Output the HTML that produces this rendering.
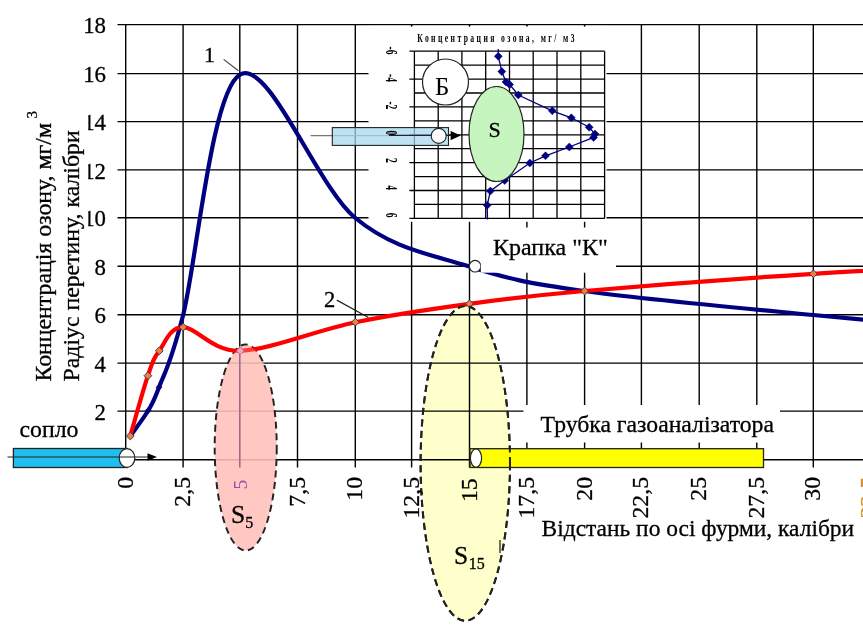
<!DOCTYPE html><html><head><meta charset="utf-8"><title>chart</title><style>html,body{margin:0;padding:0;background:#fff}svg{display:block}text{font-family:"Liberation Serif",serif;fill:#000;stroke:#000;stroke-width:0.3px}text.n{stroke:none}</style></head><body>
<svg width="863" height="632" viewBox="0 0 863 632">
<rect width="863" height="632" fill="#fff"/>
<ellipse cx="465.3" cy="463.4" rx="44.7" ry="157.4" fill="#ffffcb"/>
<g stroke="#000" stroke-width="1.4" fill="none">
<line x1="117.5" y1="459.7" x2="863" y2="459.7"/>
<line x1="117.5" y1="411.1" x2="863" y2="411.1"/>
<line x1="117.5" y1="363.1" x2="863" y2="363.1"/>
<line x1="117.5" y1="314.7" x2="863" y2="314.7"/>
<line x1="117.5" y1="266.2" x2="863" y2="266.2"/>
<line x1="117.5" y1="217.8" x2="863" y2="217.8"/>
<line x1="117.5" y1="169.9" x2="863" y2="169.9"/>
<line x1="117.5" y1="121.6" x2="863" y2="121.6"/>
<line x1="117.5" y1="73.6" x2="863" y2="73.6"/>
<line x1="117.5" y1="24.6" x2="863" y2="24.6"/>
<line x1="125.7" y1="24.6" x2="125.7" y2="467.5"/>
<line x1="183.1" y1="24.6" x2="183.1" y2="467.5"/>
<line x1="239.8" y1="24.6" x2="239.8" y2="467.5"/>
<line x1="297.5" y1="24.6" x2="297.5" y2="467.5"/>
<line x1="355.3" y1="24.6" x2="355.3" y2="467.5"/>
<line x1="411.6" y1="24.6" x2="411.6" y2="467.5"/>
<line x1="469.5" y1="24.6" x2="469.5" y2="467.5"/>
<line x1="526.9" y1="24.6" x2="526.9" y2="467.5"/>
<line x1="584.6" y1="24.6" x2="584.6" y2="467.5"/>
<line x1="641.4" y1="24.6" x2="641.4" y2="467.5"/>
<line x1="699.2" y1="24.6" x2="699.2" y2="467.5"/>
<line x1="756.8" y1="24.6" x2="756.8" y2="467.5"/>
<line x1="813.3" y1="24.6" x2="813.3" y2="467.5"/>
</g>
<rect x="368.5" y="25.8" width="238" height="196" fill="#fff"/>
<rect x="523.5" y="405" width="256.5" height="37.5" fill="#fff"/>
<g stroke="#000" stroke-width="1.4">
<line x1="411.6" y1="24.6" x2="411.6" y2="26.6"/>
<line x1="469.5" y1="24.6" x2="469.5" y2="26.6"/>
<line x1="526.9" y1="24.6" x2="526.9" y2="26.6"/>
<line x1="584.6" y1="24.6" x2="584.6" y2="26.6"/>
</g>
<g stroke="#000" stroke-width="1.3" fill="none">
<line x1="414.4" y1="51.2" x2="414.4" y2="218.4"/>
<line x1="438.2" y1="51.2" x2="438.2" y2="218.4"/>
<line x1="461.9" y1="51.2" x2="461.9" y2="218.4"/>
<line x1="485.7" y1="51.2" x2="485.7" y2="218.4"/>
<line x1="509.5" y1="51.2" x2="509.5" y2="218.4"/>
<line x1="533.2" y1="51.2" x2="533.2" y2="218.4"/>
<line x1="557.0" y1="51.2" x2="557.0" y2="218.4"/>
<line x1="580.8" y1="51.2" x2="580.8" y2="218.4"/>
<line x1="604.6" y1="51.2" x2="604.6" y2="218.4"/>
<line x1="409.4" y1="51.2" x2="604.6" y2="51.2"/>
<line x1="414.4" y1="65.1" x2="604.6" y2="65.1"/>
<line x1="409.4" y1="79.1" x2="604.6" y2="79.1"/>
<line x1="414.4" y1="93.0" x2="604.6" y2="93.0"/>
<line x1="409.4" y1="106.9" x2="604.6" y2="106.9"/>
<line x1="414.4" y1="120.9" x2="604.6" y2="120.9"/>
<line x1="409.4" y1="134.8" x2="604.6" y2="134.8"/>
<line x1="414.4" y1="148.7" x2="604.6" y2="148.7"/>
<line x1="409.4" y1="162.6" x2="604.6" y2="162.6"/>
<line x1="414.4" y1="176.6" x2="604.6" y2="176.6"/>
<line x1="409.4" y1="190.5" x2="604.6" y2="190.5"/>
<line x1="414.4" y1="204.4" x2="604.6" y2="204.4"/>
<line x1="409.4" y1="218.4" x2="604.6" y2="218.4"/>
</g>
<text id="ititle" class="n" x="0" y="0" font-size="12.8" font-weight="bold" letter-spacing="4.0" fill="#222" transform="translate(417.3,41.5) scale(0.6,1)">Концентрация озона, мг/ м3</text>
<polyline points="498.3,49.0 498.3,56.3 501.8,71.6 506.0,82.0 509.6,84.6 518.3,95.0 552.3,110.8 571.3,117.8 589.2,127.3 595.0,134.0 593.6,137.4 569.3,147.0 545.5,155.8 529.8,163.0 504.7,180.5 490.4,191.0 487.2,205.2 487.5,219.5" fill="none" stroke="#000080" stroke-width="1.3"/>
<path d="M494.3,56.3 L498.3,52.3 L502.3,56.3 L498.3,60.3 Z" fill="#000080" stroke="#000080" stroke-width="0.5"/>
<path d="M497.8,71.6 L501.8,67.6 L505.8,71.6 L501.8,75.6 Z" fill="#000080" stroke="#000080" stroke-width="0.5"/>
<path d="M502.0,82.0 L506.0,78.0 L510.0,82.0 L506.0,86.0 Z" fill="#000080" stroke="#000080" stroke-width="0.5"/>
<path d="M505.6,84.6 L509.6,80.6 L513.6,84.6 L509.6,88.6 Z" fill="#000080" stroke="#000080" stroke-width="0.5"/>
<path d="M514.3,95.0 L518.3,91.0 L522.3,95.0 L518.3,99.0 Z" fill="#000080" stroke="#000080" stroke-width="0.5"/>
<path d="M548.3,110.8 L552.3,106.8 L556.3,110.8 L552.3,114.8 Z" fill="#000080" stroke="#000080" stroke-width="0.5"/>
<path d="M567.3,117.8 L571.3,113.8 L575.3,117.8 L571.3,121.8 Z" fill="#000080" stroke="#000080" stroke-width="0.5"/>
<path d="M585.2,127.3 L589.2,123.3 L593.2,127.3 L589.2,131.3 Z" fill="#000080" stroke="#000080" stroke-width="0.5"/>
<path d="M591.0,134.0 L595.0,130.0 L599.0,134.0 L595.0,138.0 Z" fill="#000080" stroke="#000080" stroke-width="0.5"/>
<path d="M589.6,137.4 L593.6,133.4 L597.6,137.4 L593.6,141.4 Z" fill="#000080" stroke="#000080" stroke-width="0.5"/>
<path d="M565.3,147.0 L569.3,143.0 L573.3,147.0 L569.3,151.0 Z" fill="#000080" stroke="#000080" stroke-width="0.5"/>
<path d="M541.5,155.8 L545.5,151.8 L549.5,155.8 L545.5,159.8 Z" fill="#000080" stroke="#000080" stroke-width="0.5"/>
<path d="M525.8,163.0 L529.8,159.0 L533.8,163.0 L529.8,167.0 Z" fill="#000080" stroke="#000080" stroke-width="0.5"/>
<path d="M500.7,180.5 L504.7,176.5 L508.7,180.5 L504.7,184.5 Z" fill="#000080" stroke="#000080" stroke-width="0.5"/>
<path d="M486.4,191.0 L490.4,187.0 L494.4,191.0 L490.4,195.0 Z" fill="#000080" stroke="#000080" stroke-width="0.5"/>
<path d="M483.2,205.2 L487.2,201.2 L491.2,205.2 L487.2,209.2 Z" fill="#000080" stroke="#000080" stroke-width="0.5"/>
<line x1="310.5" y1="135.6" x2="390" y2="135.6" stroke="#777" stroke-width="1.2"/>
<rect x="332.3" y="127.6" width="116.2" height="17.8" fill="#a9d8ef" fill-opacity="0.75" stroke="#222" stroke-width="1.1"/>
<line x1="389" y1="135.4" x2="452" y2="135.4" stroke="#223" stroke-width="1.2"/>
<circle cx="438.7" cy="135.9" r="7.5" fill="#fff" stroke="#222" stroke-width="1.1"/>
<path d="M450.6,131 L460.8,135.6 L450.6,140.2 Z" fill="#000"/>
<text class="n" x="0" y="0" font-size="16" font-weight="bold" text-anchor="middle" transform="translate(386.1,50.6) rotate(90) scale(0.6,1)">-6</text>
<text class="n" x="0" y="0" font-size="16" font-weight="bold" text-anchor="middle" transform="translate(386.1,78.0) rotate(90) scale(0.6,1)">-4</text>
<text class="n" x="0" y="0" font-size="16" font-weight="bold" text-anchor="middle" transform="translate(386.1,105.4) rotate(90) scale(0.6,1)">-2</text>
<text class="n" x="0" y="0" font-size="16" font-weight="bold" text-anchor="middle" transform="translate(386.1,132.9) rotate(90) scale(0.6,1)">0</text>
<text class="n" x="0" y="0" font-size="16" font-weight="bold" text-anchor="middle" transform="translate(386.1,160.3) rotate(90) scale(0.6,1)">2</text>
<text class="n" x="0" y="0" font-size="16" font-weight="bold" text-anchor="middle" transform="translate(386.1,187.7) rotate(90) scale(0.6,1)">4</text>
<text class="n" x="0" y="0" font-size="16" font-weight="bold" text-anchor="middle" transform="translate(386.1,215.1) rotate(90) scale(0.6,1)">6</text>
<circle cx="445.5" cy="82" r="23" fill="#fff" stroke="#222" stroke-width="1.2"/>
<text class="n" x="442.3" y="95" font-size="25" text-anchor="middle">Б</text>
<ellipse cx="496.5" cy="134" rx="27.5" ry="47.5" fill="#c6f5c0" stroke="#222" stroke-width="1.2"/>
<text x="494.7" y="136.8" font-size="22" text-anchor="middle">S</text>
<ellipse cx="245.7" cy="447.5" rx="31" ry="103" fill="#ffc0bb" fill-opacity="0.83" stroke="none"/>
<ellipse cx="245.7" cy="447.5" rx="31" ry="103" fill="none" stroke="#222" stroke-width="2" stroke-dasharray="7,4.5"/>
<ellipse cx="465.3" cy="463.4" rx="44.7" ry="157.4" fill="none" stroke="#222" stroke-width="2" stroke-dasharray="7,4.5"/>
<line x1="239.8" y1="351" x2="239.8" y2="467.5" stroke="#6b2f78" stroke-width="1.3"/>
<line x1="500" y1="540" x2="500" y2="553" stroke="#222" stroke-width="1.3"/>
<path d="M130.3,436.0 C133.3,431.8 143.4,418.6 148.2,410.5 C153.0,402.4 153.2,403.1 159.0,387.3 C164.8,371.6 169.4,368.1 182.9,316.0 C196.4,263.9 211.3,91.0 240.0,74.6 C268.6,58.2 316.6,185.5 354.8,217.5 C393.0,249.5 431.1,254.2 469.3,266.5 C507.5,278.8 526.7,282.9 584.0,291.0 C641.3,299.1 736.9,307.7 813.2,315.0 C889.5,322.3 1003.9,331.7 1042.0,335.0" fill="none" stroke="#000080" stroke-width="4.2" stroke-linejoin="round"/>
<path d="M130.3,436.0 C133.2,425.9 143.1,389.9 147.9,375.7 C152.7,361.5 153.4,358.9 159.3,350.8 C165.2,342.7 169.6,327.2 183.1,327.2 C196.6,327.2 211.6,351.6 240.3,350.8 C269.0,350.0 317.2,330.0 355.4,322.2 C393.6,314.4 431.2,309.0 469.4,303.8 C507.6,298.6 527.3,296.0 584.6,291.0 C641.9,286.0 737.2,278.6 813.4,273.8 C889.6,269.0 1003.9,264.0 1042.0,262.0" fill="none" stroke="#ff0000" stroke-width="4.2" stroke-linejoin="round"/>
<path d="M145.2,410.5 L148.2,407.5 L151.2,410.5 L148.2,413.5 Z" fill="#000080" stroke="#000080" stroke-width="0.5"/>
<path d="M156.0,387.3 L159.0,384.3 L162.0,387.3 L159.0,390.3 Z" fill="#000080" stroke="#000080" stroke-width="0.5"/>
<path d="M810.8,315.0 L813.4,312.4 L816.0,315.0 L813.4,317.6 Z" fill="#000080" stroke="#000080" stroke-width="0.5"/>
<path d="M126.4,436.0 L130.3,432.1 L134.2,436.0 L130.3,439.9 Z" fill="#f4802c" stroke="#2a2a80" stroke-width="0.9"/>
<path d="M144.0,375.7 L147.9,371.8 L151.8,375.7 L147.9,379.6 Z" fill="#f4802c" stroke="#2a2a80" stroke-width="0.9"/>
<path d="M155.4,350.8 L159.3,346.9 L163.2,350.8 L159.3,354.7 Z" fill="#f4802c" stroke="#2a2a80" stroke-width="0.9"/>
<path d="M179.2,327.2 L183.1,323.3 L187.0,327.2 L183.1,331.1 Z" fill="#f4802c" stroke="#2a2a80" stroke-width="0.9"/>
<path d="M351.5,322.2 L355.4,318.3 L359.3,322.2 L355.4,326.1 Z" fill="#f4802c" stroke="#2a2a80" stroke-width="0.9"/>
<path d="M465.5,303.8 L469.4,299.9 L473.3,303.8 L469.4,307.7 Z" fill="#f4802c" stroke="#2a2a80" stroke-width="0.9"/>
<path d="M580.7,291.0 L584.6,287.1 L588.5,291.0 L584.6,294.9 Z" fill="#f4802c" stroke="#2a2a80" stroke-width="0.9"/>
<path d="M809.5,273.8 L813.4,269.9 L817.3,273.8 L813.4,277.7 Z" fill="#f4802c" stroke="#2a2a80" stroke-width="0.9"/>
<path d="M236.4,350.8 L240.3,346.9 L244.2,350.8 L240.3,354.7 Z" fill="#f79ab0" stroke="#7d3f7d" stroke-width="0.9"/>
<ellipse cx="245.7" cy="447.5" rx="30" ry="102" fill="#ffc2bd" fill-opacity="0.3"/>
<line x1="223.7" y1="59.4" x2="238.4" y2="70.8" stroke="#444" stroke-width="1.2"/>
<line x1="336.8" y1="300.1" x2="368.4" y2="317.5" stroke="#222" stroke-width="1.2"/>
<text x="209.5" y="61.8" font-size="22" text-anchor="middle">1</text>
<text x="329.7" y="306.5" font-size="22.5" text-anchor="middle">2</text>
<circle cx="475.1" cy="266.2" r="5.8" fill="#fff" stroke="#222" stroke-width="1.2"/>
<rect x="480.8" y="227.5" width="135.2" height="45.2" fill="#fff"/>
<text x="493" y="254.6" font-size="24">Крапка "К"</text>
<rect x="470" y="448.7" width="293.5" height="18.8" fill="#ffff00" stroke="#222" stroke-width="1.3"/>
<ellipse cx="476" cy="458.1" rx="5.6" ry="9.2" fill="#fff" stroke="#222" stroke-width="1.2"/>
<ellipse cx="465.3" cy="463.4" rx="44.7" ry="157.4" fill="none" stroke="#222" stroke-width="2" stroke-dasharray="7,4.5"/>
<text x="540.6" y="432" font-size="23.7">Трубка газоаналізатора</text>
<text x="541.6" y="535.6" font-size="23.45">Відстань по осі фурми, калібри</text>
<rect x="13.4" y="448.5" width="114" height="19" fill="#1fc0f0" stroke="#222" stroke-width="1.3"/>
<ellipse cx="127" cy="458" rx="7.8" ry="9.4" fill="#fff" stroke="#222" stroke-width="1.2"/>
<line x1="7.5" y1="457" x2="150" y2="457" stroke="#222" stroke-width="1.1"/>
<path d="M147.5,453.3 L157,457 L147.5,460.7 Z" fill="#000"/>
<text x="19.5" y="437.2" font-size="23.8">сопло</text>
<text x="106" y="419.7" font-size="22.8" text-anchor="end">2</text>
<text x="106" y="371.7" font-size="22.8" text-anchor="end">4</text>
<text x="106" y="323.3" font-size="22.8" text-anchor="end">6</text>
<text x="106" y="274.8" font-size="22.8" text-anchor="end">8</text>
<text x="106" y="226.4" font-size="22.8" text-anchor="end">10</text>
<text x="106" y="178.5" font-size="22.8" text-anchor="end">12</text>
<text x="106" y="130.2" font-size="22.8" text-anchor="end">14</text>
<text x="106" y="82.2" font-size="22.8" text-anchor="end">16</text>
<text x="106" y="33.2" font-size="22.8" text-anchor="end">18</text>
<text x="0" y="0" font-size="23.8" text-anchor="end" style="fill:#000;stroke:#000" transform="translate(132.7,476.9) rotate(-90)">0</text>
<text x="0" y="0" font-size="23.8" text-anchor="end" style="fill:#000;stroke:#000" transform="translate(190.1,476.9) rotate(-90)">2,5</text>
<text x="0" y="0" font-size="19.5" text-anchor="end" style="fill:#9152a2;stroke:none" transform="translate(247.1,479.8) rotate(-90)">5</text>
<text x="0" y="0" font-size="23.8" text-anchor="end" style="fill:#000;stroke:#000" transform="translate(304.5,476.9) rotate(-90)">7,5</text>
<text x="0" y="0" font-size="23.8" text-anchor="end" style="fill:#000;stroke:#000" transform="translate(362.3,476.9) rotate(-90)">10</text>
<text x="0" y="0" font-size="23.8" text-anchor="end" style="fill:#000;stroke:#000" transform="translate(418.6,476.9) rotate(-90)">12,5</text>
<text x="0" y="0" font-size="23.8" text-anchor="end" style="fill:#000;stroke:#000" transform="translate(476.5,478.3) rotate(-90)">15</text>
<text x="0" y="0" font-size="23.8" text-anchor="end" style="fill:#000;stroke:#000" transform="translate(533.9,476.9) rotate(-90)">17,5</text>
<text x="0" y="0" font-size="23.8" text-anchor="end" style="fill:#000;stroke:#000" transform="translate(591.6,476.9) rotate(-90)">20</text>
<text x="0" y="0" font-size="23.8" text-anchor="end" style="fill:#000;stroke:#000" transform="translate(648.4,476.9) rotate(-90)">22,5</text>
<text x="0" y="0" font-size="23.8" text-anchor="end" style="fill:#000;stroke:#000" transform="translate(706.2,476.9) rotate(-90)">25</text>
<text x="0" y="0" font-size="23.8" text-anchor="end" style="fill:#000;stroke:#000" transform="translate(763.8,476.9) rotate(-90)">27,5</text>
<text x="0" y="0" font-size="23.8" text-anchor="end" style="fill:#000;stroke:#000" transform="translate(820.3,476.9) rotate(-90)">30</text>
<text x="0" y="0" font-size="23.8" text-anchor="end" style="fill:#d98a1f;stroke:#d98a1f" transform="translate(876.4,476.9) rotate(-90)">32,5</text>
<rect x="26" y="100" width="62.2" height="285" fill="#fff"/>
<text x="0" y="0" font-size="23.8" transform="translate(51,381.5) rotate(-90)">Концентрація озону, мг/м</text>
<text x="0" y="0" font-size="15" transform="translate(37,118.5) rotate(-90)">3</text>
<text x="0" y="0" font-size="23.8" transform="translate(79.4,381.5) rotate(-90)">Радіус перетину, калібри</text>
<text x="231" y="522.5" font-size="25.5">S<tspan font-size="16" dy="5.5">5</tspan></text>
<text x="454" y="563.5" font-size="25.5">S<tspan font-size="16" dy="5.5" dx="0.5">15</tspan></text>
</svg></body></html>
